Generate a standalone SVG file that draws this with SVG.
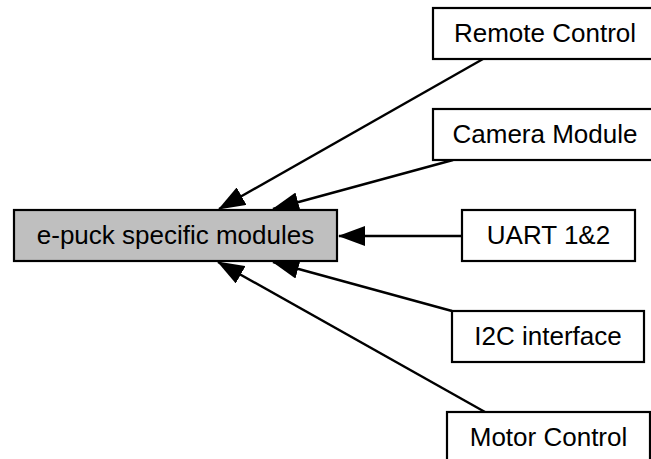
<svg xmlns="http://www.w3.org/2000/svg" width="651" height="459" viewBox="0 0 651 459">
<defs>
<style>
.box{fill:#ffffff;stroke:#000000;stroke-width:2.2}
.main{fill:#bfbfbf;stroke:#000000;stroke-width:2.2}
.lbl{font-family:"Liberation Sans",Arial,Helvetica,sans-serif;font-size:26px;fill:#000000;text-anchor:middle}
.edge{fill:none;stroke:#000000;stroke-width:2.4;marker-end:url(#arr)}
</style>
<marker id="arr" viewBox="0 0 27 20" refX="26" refY="10" markerWidth="27" markerHeight="20" markerUnits="userSpaceOnUse" orient="auto">
<path d="M0,0 L27,10 L0,20 Z" fill="#000000"/>
</marker>
</defs>
<rect width="651" height="459" fill="#ffffff"/>
<g id="connectors">
<path class="edge" d="M483,59 L219,209"/>
<path class="edge" d="M453,160 L273,209"/>
<path class="edge" d="M462,236 L339,236"/>
<path class="edge" d="M452,311 L273,262"/>
<path class="edge" d="M485,412 L218,262"/>
</g>
<g id="main">
<rect class="main" x="14" y="210" width="323" height="51"/>
<text class="lbl" x="175.5" y="244">e-puck specific modules</text>
</g>
<g id="remote">
<rect class="box" x="433" y="8" width="224" height="51"/>
<text class="lbl" x="545" y="42">Remote Control</text>
</g>
<g id="camera">
<rect class="box" x="433" y="109" width="224" height="51"/>
<text class="lbl" x="545" y="143">Camera Module</text>
</g>
<g id="uart">
<rect class="box" x="462" y="210" width="173" height="51"/>
<text class="lbl" x="548.5" y="244">UART 1&amp;2</text>
</g>
<g id="i2c">
<rect class="box" x="452" y="311" width="192" height="51"/>
<text class="lbl" x="548" y="345">I2C interface</text>
</g>
<g id="motor">
<rect class="box" x="447" y="412" width="203" height="51"/>
<text class="lbl" x="548.5" y="446">Motor Control</text>
</g>
</svg>
